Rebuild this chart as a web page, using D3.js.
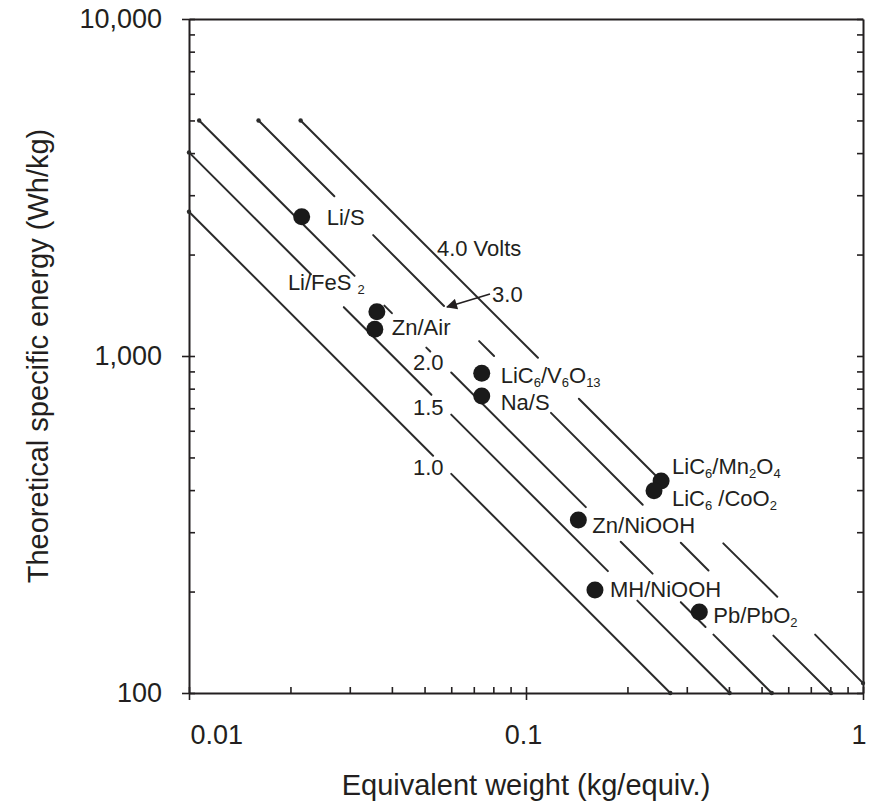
<!DOCTYPE html>
<html>
<head>
<meta charset="utf-8">
<script src="https://cdn.jsdelivr.net/npm/d3@7"></script>
<style>
  body { margin: 0; background: #fff; }
  text { font-family: "Liberation Sans", Arial, Helvetica, sans-serif; fill: #231f20; }
</style>
</head>
<body>
<script>
// cells : equivalent weight (kg/equiv.) vs theoretical specific energy (Wh/kg)
// "_" marks a subscript
const cells = ["Li/S", "Li/FeS _2", "Zn/Air", "LiC_6/V_6O_13", "Na/S", "LiC_6/Mn_2O_4",
               "LiC_6 /CoO_2", "Zn/NiOOH", "MH/NiOOH", "Pb/PbO_2"];
const eqWeight = [0.0216, 0.0361, 0.0356, 0.0739, 0.0739, 0.2517, 0.2398, 0.1430, 0.1602, 0.3268];
const specEnergy = [2590, 1353, 1200, 889, 761, 426, 398, 326, 202, 174];

// label placement, px from the dot (text start, baseline)
const labelDx = [25, -89, 17, 19, 19, 11, 18, 14, 15, 14];
const labelDy = [8, -22, 6, 10, 14, -7, 15, 13, 7, 11];

// constant voltage lines, drawn as broken segments [[W, E], [W, E]]
const volts = [1.0, 1.5, 2.0, 3.0, 4.0];
const voltSegments = [
  [[[0.01, 2680], [0.053, 506]], [[0.060, 447], [0.268, 100]]],
  [[[0.01, 4020], [0.023, 1748]], [[0.0288, 1396], [0.0524, 767]],
   [[0.060, 670], [0.175, 230]], [[0.214, 188], [0.402, 100]]],
  [[[0.01072, 5000], [0.031, 1729]], [[0.038, 1411], [0.040, 1340]], [[0.0506, 1059], [0.052, 1031]],
   [[0.060, 893], [0.1505, 356]], [[0.191, 281], [0.2375, 226]], [[0.288, 186], [0.341, 157]],
   [[0.360, 149], [0.536, 100]]],
  [[[0.01608, 5000], [0.027, 2978]], [[0.0352, 2284], [0.0571, 1408]], [[0.0726, 1107], [0.0804, 1000]],
   [[0.1186, 678], [0.222, 362]], [[0.288, 279], [0.348, 231]], [[0.542, 148], [0.804, 100]]],
  [[[0.02144, 5000], [0.1085, 988]], [[0.1435, 747], [0.2458, 436]],
   [[0.385, 278], [0.5567, 193]], [[0.721, 149], [1.0, 107]]]
];

// voltage labels in data coords (text start, baseline)
const voltLabels = ["1.0", "1.5", "2.0", "3.0", "4.0 Volts"];
const voltLabelW = [0.0462, 0.0462, 0.0462, 0.0793, 0.0544];
const voltLabelE = [444, 668, 909, 1446, 1980];
// arrow from "3.0" to its line
const arrowFrom = [0.0782, 1528];
const arrowTo = [0.0583, 1398];

const xTicks = [0.01, 0.1, 1];
const yTicks = [100, 1000, 10000];

const width = 871, height = 802;
const ink = "#231f20";

const svg = d3.select("body").append("svg")
  .attr("width", width)
  .attr("height", height);

const x = d3.scaleLog().domain([0.01, 1]).range([189, 863]);
const y = d3.scaleLog().domain([100, 10000]).range([693, 19]);

// ---- axes
function styleAxis(g) {
  g.attr("color", ink).attr("font-family", null).attr("font-size", null);
  g.selectAll(".domain").attr("stroke-width", 2);
  g.selectAll(".tick line").attr("stroke-width", 1.6);
  g.selectAll(".tick text").style("font-size", "27px");
}

// left: major ticks outward + labels, all ticks inward
svg.append("g")
  .attr("transform", "translate(189,0)")
  .call(d3.axisLeft(y).tickValues(yTicks).tickSize(7).tickSizeOuter(0).tickPadding(20)
    .tickFormat(d3.format(",")))
  .call(styleAxis);
svg.append("g")
  .attr("transform", "translate(189,0)")
  .call(d3.axisLeft(y).tickValues(y.ticks()).tickSize(-6).tickFormat(""))
  .call(styleAxis)
  .call(g => g.select(".domain").remove());

// right
svg.append("g")
  .attr("transform", "translate(863,0)")
  .call(d3.axisRight(y).tickValues(y.ticks()).tickSize(-6).tickSizeOuter(0).tickFormat(""))
  .call(styleAxis);

// top, plain line
svg.append("g")
  .attr("transform", "translate(0,19)")
  .call(d3.axisTop(x).tickValues([]).tickSizeOuter(0))
  .call(styleAxis);

// bottom
const xAxis = svg.append("g")
  .attr("transform", "translate(0,693)")
  .call(d3.axisBottom(x).tickValues(xTicks).tickSize(7).tickSizeOuter(0).tickPadding(25)
    .tickFormat(d => String(d)))
  .call(styleAxis);
xAxis.selectAll(".tick text")
  .attr("text-anchor", d => d === 0.01 ? "start" : d === 1 ? "end" : "middle")
  .attr("x", d => d === 0.01 ? 1 : d === 1 ? 3 : -3);
svg.append("g")
  .attr("transform", "translate(0,693)")
  .call(d3.axisBottom(x).tickValues(x.ticks()).tickSize(-6).tickFormat(""))
  .call(styleAxis)
  .call(g => g.select(".domain").remove());

// axis titles
svg.append("text")
  .attr("x", 526)
  .attr("y", 795)
  .attr("text-anchor", "middle")
  .style("font-size", "29px")
  .text("Equivalent weight (kg/equiv.)");

svg.append("text")
  .attr("transform", "translate(48,356) rotate(-90)")
  .attr("text-anchor", "middle")
  .style("font-size", "29px")
  .text("Theoretical specific energy (Wh/kg)");

// ---- voltage lines
const line = d3.line().x(d => x(d[0])).y(d => y(d[1]));
const vg = svg.append("g");
voltSegments.forEach((segs, i) => {
  vg.selectAll(null)
    .data(segs)
    .join("path")
    .attr("d", line)
    .attr("fill", "none")
    .attr("stroke", "#2b2b2b")
    .attr("stroke-width", 2)
    .attr("stroke-linecap", "round");
  // small blobs at the line ends
  const ends = [segs[0][0], segs[segs.length - 1][1]];
  vg.selectAll(null)
    .data(ends)
    .join("circle")
    .attr("cx", d => x(d[0]))
    .attr("cy", d => y(d[1]))
    .attr("r", 2.2)
    .attr("fill", "#2b2b2b");
});

// voltage labels
svg.append("g")
  .selectAll("text")
  .data(voltLabels)
  .join("text")
  .attr("x", (d, i) => x(voltLabelW[i]))
  .attr("y", (d, i) => y(voltLabelE[i]))
  .style("font-size", "22px")
  .text(d => d);

// arrow
svg.append("defs").append("marker")
  .attr("id", "head")
  .attr("viewBox", "0 0 10 10")
  .attr("refX", 9)
  .attr("refY", 5)
  .attr("markerWidth", 14)
  .attr("markerHeight", 11)
  .attr("markerUnits", "userSpaceOnUse")
  .attr("orient", "auto")
  .append("path")
  .attr("d", "M0,0L10,5L0,10z")
  .attr("fill", ink);

svg.append("path")
  .attr("d", line([arrowFrom, arrowTo]))
  .attr("stroke", ink)
  .attr("stroke-width", 1.6)
  .attr("fill", "none")
  .attr("marker-end", "url(#head)");

// ---- cells
svg.append("g")
  .selectAll("circle")
  .data(cells)
  .join("circle")
  .attr("cx", (d, i) => x(eqWeight[i]))
  .attr("cy", (d, i) => y(specEnergy[i]))
  .attr("r", 8.5)
  .attr("fill", "#1a1a1a");

const labels = svg.append("g")
  .selectAll("text")
  .data(cells)
  .join("text")
  .attr("x", (d, i) => x(eqWeight[i]) + labelDx[i])
  .attr("y", (d, i) => y(specEnergy[i]) + labelDy[i])
  .style("font-size", "22px");

labels.each(function(d) {
  const t = d3.select(this);
  let sub = false;
  d.split(/(_\d+)/).filter(s => s.length).forEach(part => {
    if (part[0] === "_") {
      t.append("tspan").attr("dy", 4).style("font-size", "13px").text(part.slice(1));
      sub = true;
    } else {
      t.append("tspan").attr("dy", sub ? -4 : 0).text(part);
      sub = false;
    }
  });
});
</script>
</body>
</html>
